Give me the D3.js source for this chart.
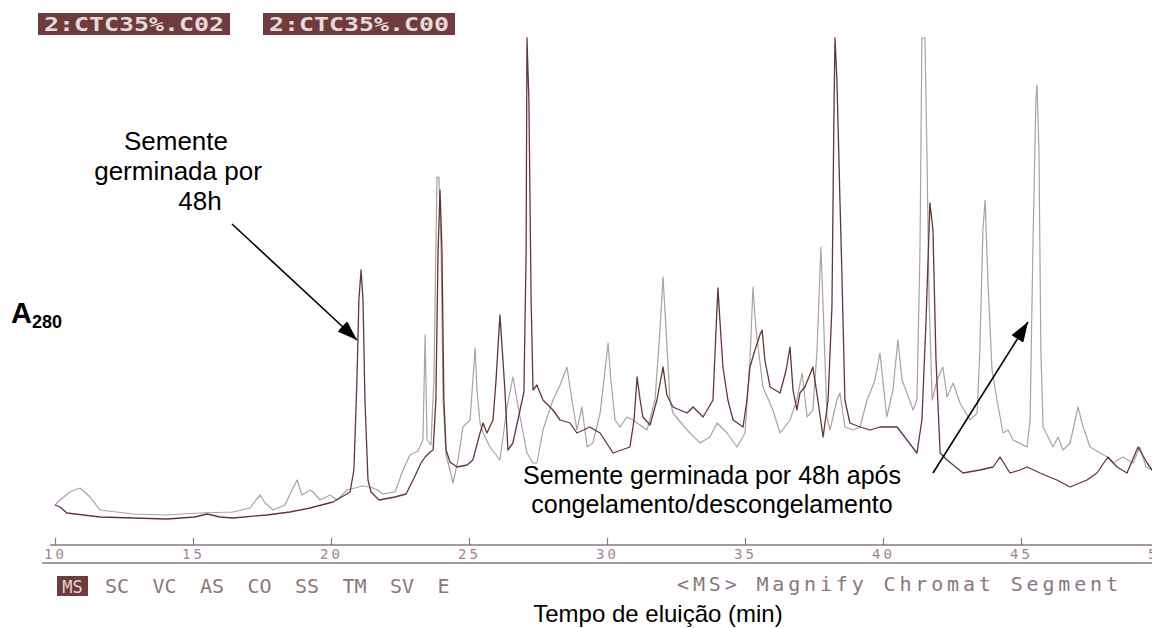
<!DOCTYPE html>
<html>
<head>
<meta charset="utf-8">
<script src="https://cdn.jsdelivr.net/npm/d3@7"></script>
<style>
body { margin: 0; background: #fff; }
svg { display: block; }
</style>
</head>
<body>
<svg width="1152" height="628"></svg>
<script>
// HPLC overlay, A280 vs tempo de eluição (min)
const fileLabels = ['2:CTC35%.C02', '2:CTC35%.C00'];
const tickValues = [10, 15, 20, 25, 30, 35, 40, 45, 50];
const tickLabels = ['10', '15', '20', '25', '30', '35', '40', '45', '50'];
const menuItems = ['MS', 'SC', 'VC', 'AS', 'CO', 'SS', 'TM', 'SV', 'E'];
const menuHint = '<MS> Magnify Chromat Segment';

// [min, absorbance (arb.)] semente germinada por 48h
const germ48 = [
  [10.00,30],[10.18,28],[10.43,22],[11.63,18],[12.83,17],[14.06,16],[15.07,18],[15.51,21],[15.98,18],[16.45,17],
  [17.68,20],[18.51,23],[19.24,27],[20.07,33],[20.51,40],[20.69,43],[20.83,65],[20.94,155],[21.01,235],[21.09,265],
  [21.16,235],[21.23,135],[21.34,55],[21.45,43],[21.74,35],[22.32,38],[22.72,41],[23.01,57],[23.26,72],[23.41,78],
  [23.59,83],[23.70,85],[23.80,135],[23.88,285],[23.95,345],[24.02,285],[24.09,135],[24.17,85],[24.31,73],[24.57,68],
  [24.93,70],[25.14,75],[25.40,102],[25.51,112],[25.65,102],[25.87,115],[25.98,155],[26.12,220],[26.23,175],[26.30,145],
  [26.41,85],[26.59,92],[26.85,125],[26.99,143],[27.07,285],[27.10,497],[27.17,435],[27.25,235],[27.32,145],[27.46,150],
  [27.68,135],[28.04,125],[28.30,115],[28.66,112],[28.91,102],[29.38,108],[29.75,102],[30.22,82],[30.83,88],[30.98,115],
  [31.09,158],[31.20,135],[31.30,118],[31.56,110],[31.81,135],[32.03,168],[32.17,140],[32.39,128],[32.90,122],[33.12,128],
  [33.48,118],[33.84,135],[33.95,205],[34.02,247],[34.09,215],[34.20,168],[34.38,135],[34.57,115],[34.93,108],[35.07,135],
  [35.18,168],[35.36,185],[35.54,200],[35.62,205],[35.72,175],[35.91,148],[36.27,142],[36.49,165],[36.63,188],[36.74,145],
  [36.88,125],[36.99,142],[37.17,148],[37.46,168],[37.64,135],[37.83,98],[38.01,135],[38.15,228],[38.22,415],[38.26,497],
  [38.33,455],[38.44,335],[38.51,262],[38.62,135],[38.80,112],[39.17,108],[39.53,105],[39.89,108],[40.51,108],[40.87,95],
  [41.23,82],[41.41,115],[41.56,215],[41.70,332],[41.81,305],[41.92,175],[42.07,82],[42.32,75],[42.90,62],[43.51,65],
  [43.99,68],[44.24,78],[44.60,62],[44.96,65],[45.22,68],[45.69,62],[46.30,55],[46.78,48],[47.39,55],[47.75,62],
  [48.15,78],[48.48,68],[48.84,62],[49.24,88],[49.57,72],[49.75,65]
];

// [min, absorbance (arb.)] semente germinada por 48h após congelamento/descongelamento
const germ48Frozen = [
  [10.00,30],[10.18,35],[10.54,43],[10.91,47],[11.27,38],[11.63,25],[12.83,21],[14.06,20],[15.25,22],[16.45,23],
  [17.07,27],[17.28,35],[17.43,40],[17.61,32],[17.90,25],[18.33,30],[18.59,45],[18.77,55],[18.95,40],[19.24,45],
  [19.35,43],[19.60,35],[19.96,40],[20.22,35],[20.58,45],[20.87,47],[21.12,49],[21.41,48],[21.70,45],[21.88,41],
  [22.32,43],[22.61,65],[22.86,80],[23.15,84],[23.33,95],[23.41,200],[23.48,95],[23.62,90],[23.73,155],[23.80,285],
  [23.84,358],[23.91,358],[23.99,285],[24.06,135],[24.17,80],[24.31,65],[24.42,52],[24.60,75],[24.78,108],[25.04,115],
  [25.14,155],[25.22,187],[25.29,145],[25.40,112],[25.51,102],[25.76,88],[26.12,75],[26.38,128],[26.59,158],[26.74,135],
  [26.85,118],[27.10,82],[27.32,72],[27.46,72],[27.68,105],[28.04,135],[28.30,150],[28.55,168],[28.73,135],[28.91,105],
  [29.09,128],[29.28,88],[29.49,92],[29.75,122],[29.93,165],[30.04,192],[30.14,155],[30.29,115],[30.47,108],[30.72,118],
  [30.94,115],[31.45,105],[31.74,135],[31.92,205],[32.03,258],[32.14,205],[32.28,135],[32.39,122],[32.90,105],[33.37,92],
  [33.73,98],[33.99,112],[34.35,102],[34.71,88],[35.00,102],[35.18,175],[35.29,248],[35.40,205],[35.65,148],[36.01,125],
  [36.27,102],[36.63,115],[36.88,135],[37.07,162],[37.25,118],[37.46,125],[37.61,185],[37.75,288],[37.86,205],[37.97,118],
  [38.08,105],[38.33,135],[38.44,142],[38.62,108],[38.91,105],[39.17,108],[39.42,135],[39.53,142],[39.71,155],[39.89,182],
  [40.07,135],[40.14,118],[40.36,145],[40.54,195],[40.69,155],[40.87,142],[41.09,125],[41.23,135],[41.34,285],[41.41,497],
  [41.52,497],[41.59,385],[41.67,235],[41.78,135],[41.96,155],[42.07,162],[42.17,168],[42.32,138],[42.54,152],[42.79,132],
  [43.15,115],[43.41,122],[43.51,185],[43.62,305],[43.70,335],[43.80,255],[43.95,165],[44.13,135],[44.35,102],[44.53,105],
  [44.71,95],[45.22,88],[45.33,115],[45.43,285],[45.54,435],[45.58,450],[45.65,385],[45.72,185],[45.80,108],[46.16,88],
  [46.34,98],[46.52,85],[46.78,92],[46.96,115],[47.07,128],[47.21,112],[47.50,88],[48.12,78],[48.33,72],[48.70,78],
  [49.06,72],[49.31,88],[49.53,68],[49.75,65]
];

const svg = d3.select('svg');
const mono = 'DejaVu Sans Mono, Liberation Mono, monospace';
const sans = 'Liberation Sans, Arial, sans-serif';
const screenInk = '#8a7878';
const boxInk = '#6e3c3c';

const x = d3.scaleLinear().domain([10, 50]).range([55, 1159]);
const y = d3.scaleLinear().domain([0, 500]).range([535, 35]);

// file name boxes
const boxX = [38, 263];
fileLabels.forEach((lab, i) => {
  svg.append('rect').attr('x', boxX[i]).attr('y', 13).attr('width', 192).attr('height', 22).attr('fill', boxInk);
  svg.append('text')
    .attr('x', boxX[i] + 6).attr('y', 31)
    .attr('textLength', 180).attr('lengthAdjust', 'spacingAndGlyphs')
    .attr('font-family', mono).attr('font-size', 19).attr('font-weight', 'bold')
    .attr('fill', '#e8dada')
    .text(lab);
});

// traces
const line = d3.line().x(d => x(d[0])).y(d => y(d[1]));

svg.append('path').datum(germ48Frozen)
  .attr('d', line).attr('fill', 'none')
  .attr('stroke', '#aba2a2').attr('stroke-width', 1.2).attr('stroke-linejoin', 'round');

svg.append('path').datum(germ48)
  .attr('d', line).attr('fill', 'none')
  .attr('stroke', '#633636').attr('stroke-width', 1.3).attr('stroke-linejoin', 'round');

// time axis
svg.append('line').attr('x1', 50).attr('x2', 1152).attr('y1', 545).attr('y2', 545)
  .attr('stroke', screenInk).attr('stroke-width', 1.5);
svg.append('line').attr('x1', 42).attr('x2', 1152).attr('y1', 563).attr('y2', 563)
  .attr('stroke', screenInk).attr('stroke-width', 1.5);

const axis = d3.axisBottom(x)
  .tickValues(tickValues)
  .tickFormat((d, i) => tickLabels[i])
  .tickSize(-7)
  .tickPadding(4);

const gx = svg.append('g').attr('transform', 'translate(0,545)').call(axis);
gx.select('.domain').remove();
gx.selectAll('.tick line').attr('stroke', screenInk).attr('stroke-width', 1.2);
gx.selectAll('.tick text')
  .attr('font-family', mono).attr('font-size', 14)
  .attr('letter-spacing', 3).attr('fill', '#9a8888');

// menu bar
svg.append('rect').attr('x', 57).attr('y', 576).attr('width', 31).attr('height', 20).attr('fill', boxInk);
menuItems.forEach((m, i) => {
  svg.append('text')
    .attr('x', i === 0 ? 72.5 : 105 + (i - 1) * 47.5)
    .attr('y', 593)
    .attr('text-anchor', i === 0 ? 'middle' : 'start')
    .attr('font-family', mono).attr('font-size', i === 0 ? 17 : 20)
    .attr('fill', i === 0 ? '#e0d2d2' : screenInk)
    .text(m);
});
svg.append('text')
  .attr('x', 677).attr('y', 591)
  .attr('textLength', 441).attr('lengthAdjust', 'spacing')
  .attr('font-family', mono).attr('font-size', 20)
  .attr('fill', screenInk)
  .text(menuHint);

// axis titles
svg.append('text')
  .attr('x', 11).attr('y', 323)
  .attr('font-family', sans).attr('font-weight', 'bold').attr('font-size', 29)
  .text('A')
  .append('tspan').attr('font-size', 18).attr('dy', 5).text('280');

svg.append('text')
  .attr('x', 658).attr('y', 622)
  .attr('text-anchor', 'middle')
  .attr('font-family', sans).attr('font-size', 24)
  .text('Tempo de eluição (min)');

// annotations
svg.append('defs').append('marker')
  .attr('id', 'head')
  .attr('viewBox', '0 0 20 14')
  .attr('refX', 20).attr('refY', 7)
  .attr('markerWidth', 20).attr('markerHeight', 14)
  .attr('markerUnits', 'userSpaceOnUse')
  .attr('orient', 'auto')
  .append('path').attr('d', 'M0,0 L20,7 L0,14 Z').attr('fill', '#000');

const note1 = ['Semente', 'germinada por', '48h'];
const note1X = [176, 178, 200];
note1.forEach((t, i) => {
  svg.append('text')
    .attr('x', note1X[i]).attr('y', 150 + i * 30)
    .attr('text-anchor', 'middle')
    .attr('font-family', sans).attr('font-size', 26)
    .text(t);
});
svg.append('line')
  .attr('x1', 232).attr('y1', 224).attr('x2', 357).attr('y2', 340)
  .attr('stroke', '#000').attr('stroke-width', 1.6)
  .attr('marker-end', 'url(#head)');

const note2 = ['Semente germinada por 48h após', 'congelamento/descongelamento'];
note2.forEach((t, i) => {
  svg.append('text')
    .attr('x', 712).attr('y', 484 + i * 29)
    .attr('text-anchor', 'middle')
    .attr('font-family', sans).attr('font-size', 25)
    .text(t);
});
svg.append('line')
  .attr('x1', 933).attr('y1', 473).attr('x2', 1028).attr('y2', 322)
  .attr('stroke', '#000').attr('stroke-width', 1.6)
  .attr('marker-end', 'url(#head)');
</script>
</body>
</html>
